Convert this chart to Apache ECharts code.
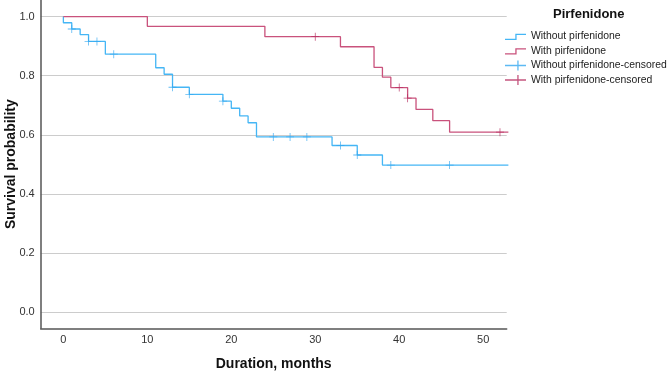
<!DOCTYPE html>
<html>
<head>
<meta charset="utf-8">
<script src="https://cdn.jsdelivr.net/npm/echarts@6/dist/echarts.min.js"></script>
<style>html,body{margin:0;padding:0;background:#fff}#c{width:668px;height:372px}</style>
</head>
<body>
<div id="c"></div>
<script>
// Kaplan-Meier steps: time (months) and survival after each event
const withoutTimes = [0, 0, 1, 2, 3, 5, 11, 12, 13, 15, 19, 20, 21, 22, 23, 32, 35, 38, 53];
const withoutSurv  = [1.0, 0.979, 0.958, 0.939, 0.916, 0.873, 0.827, 0.805, 0.761, 0.737, 0.714, 0.690, 0.664, 0.641, 0.593, 0.564, 0.532, 0.498, 0.498];
const withTimes = [0, 10, 24, 33, 37, 38, 39, 41, 42, 44, 46, 53];
const withSurv  = [1.0, 0.967, 0.932, 0.898, 0.828, 0.795, 0.760, 0.724, 0.686, 0.648, 0.609, 0.609];
// censored observations
const withoutCensTimes = [1, 3, 4, 6, 13, 15, 19, 25, 27, 29, 33, 35, 39, 46];
const withoutCensSurv  = [0.958, 0.916, 0.916, 0.873, 0.761, 0.737, 0.714, 0.593, 0.593, 0.593, 0.564, 0.532, 0.498, 0.498];
const withCensTimes = [30, 40, 41, 52];
const withCensSurv  = [0.932, 0.760, 0.724, 0.609];
const xTicks = [0, 10, 20, 30, 40, 50];
const yTicks = [0, 0.2, 0.4, 0.6, 0.8, 1.0];
const seriesNames = ['Without pirfenidone', 'With pirfenidone', 'Without pirfenidone-censored', 'With pirfenidone-censored'];

const zip = (a, b) => a.map((v, i) => [v, b[i]]);
const blue = '#45b6f5', red = '#c9527c', blueC = '#35a8f0', redC = '#b52a5e';
const plus = 'path://M9,0 H11 V9 H20 V11 H11 V20 H9 V11 H0 V9 H9 Z';
// legend icons drawn in a 21x11 box (invisible moveTo points fix the box)
const stepIcon = 'path://M0,0 M21,11 M0,7.7 L10.3,7.7 L10.3,2.7 L21,2.7 L21,4 L11.6,4 L11.6,9 L0,9 Z';
const plusIcon = 'path://M0,0 M21,11 M12.3,0.5 L13.6,0.5 L13.6,4.85 L21,4.85 L21,6.15 L13.6,6.15 L13.6,10.5 L12.3,10.5 L12.3,6.15 L0,6.15 L0,4.85 L12.3,4.85 Z';
const font = 'Liberation Sans, Arial, sans-serif';

const chart = echarts.init(document.getElementById('c'));
chart.setOption({
  animation: false,
  grid: { left: 40.7, right: 161.3, top: 0, bottom: 43.7, containLabel: false, outerBoundsMode: 'none' },
  graphic: [{ type: 'text', left: 553, top: 8, style: { text: 'Pirfenidone', font: 'bold 13px ' + font, fill: '#111' } }],
  legend: {
    orient: 'vertical', left: 505, top: 31, padding: 0, itemWidth: 21, itemHeight: 11, itemGap: 3.5,
    textStyle: { fontFamily: font, fontSize: 10.4, color: '#222' },
    data: [
      { name: seriesNames[0], icon: stepIcon },
      { name: seriesNames[1], icon: stepIcon },
      { name: seriesNames[2], icon: plusIcon },
      { name: seriesNames[3], icon: plusIcon }
    ]
  },
  xAxis: {
    type: 'value', min: -2.7, max: 52.8,
    name: 'Duration, months', nameLocation: 'middle', nameGap: 29, nameMoveOverlap: false,
    nameTextStyle: { fontFamily: font, fontSize: 14, fontWeight: 'bold', color: '#111' },
    axisLine: { show: true, onZero: false, lineStyle: { color: '#555', width: 1.5 } },
    axisTick: { show: false, customValues: xTicks },
    axisLabel: { customValues: xTicks, fontFamily: font, fontSize: 11, color: '#333', margin: 6 },
    splitLine: { show: false }
  },
  yAxis: {
    type: 'value', min: -0.054, max: 1.056,
    name: 'Survival probability', nameLocation: 'middle', nameGap: 23, nameMoveOverlap: false,
    nameTextStyle: { fontFamily: font, fontSize: 14, fontWeight: 'bold', color: '#111' },
    axisLine: { show: true, onZero: false, lineStyle: { color: '#555', width: 1.5 } },
    axisTick: { show: false, customValues: yTicks },
    axisLabel: { customValues: yTicks, fontFamily: font, fontSize: 11, color: '#333', margin: 6, formatter: v => v.toFixed(1) },
    splitLine: { show: true, lineStyle: { color: '#cccccc', width: 1.2 } }
  },
  series: [
    { name: seriesNames[0], type: 'line', step: 'end', data: zip(withoutTimes, withoutSurv), showSymbol: false, symbol: 'none', lineStyle: { color: blue, width: 1.3 }, itemStyle: { color: blue }, z: 3 },
    { name: seriesNames[1], type: 'line', step: 'end', data: zip(withTimes, withSurv), showSymbol: false, symbol: 'none', lineStyle: { color: red, width: 1.3 }, itemStyle: { color: red }, z: 3 },
    { name: seriesNames[2], type: 'scatter', symbol: plus, symbolSize: 8, data: zip(withoutCensTimes, withoutCensSurv), itemStyle: { color: blueC }, z: 4 },
    { name: seriesNames[3], type: 'scatter', symbol: plus, symbolSize: 8, data: zip(withCensTimes, withCensSurv), itemStyle: { color: redC }, z: 4 }
  ]
});
</script>
</body>
</html>
